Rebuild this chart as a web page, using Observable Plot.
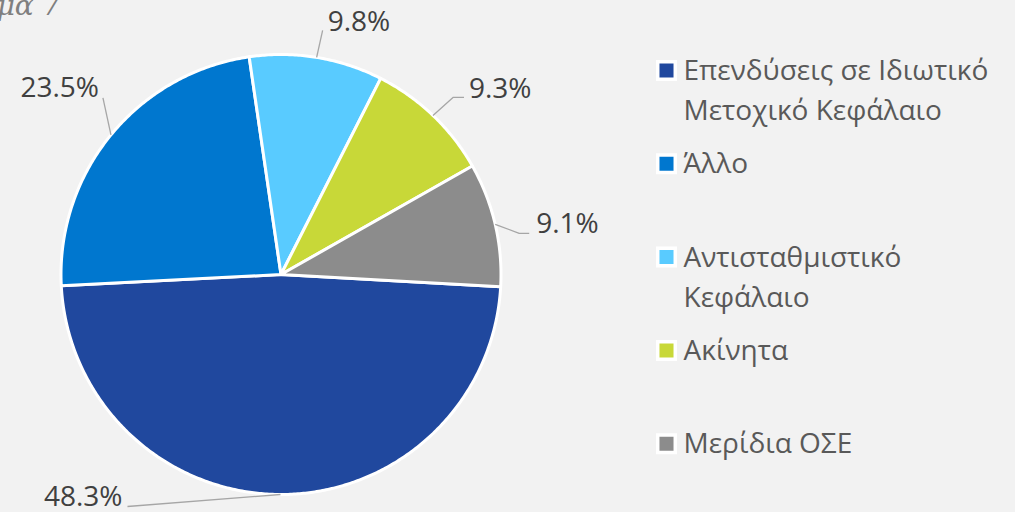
<!DOCTYPE html>
<html>
<head>
<meta charset="utf-8">
<script src="https://cdn.jsdelivr.net/npm/d3@7"></script>
<script src="https://cdn.jsdelivr.net/npm/@observablehq/plot@0.6"></script>
<style>
  html, body { margin: 0; padding: 0; background: #F2F2F2; }
  #chart { width: 1015px; height: 512px; overflow: hidden; }
</style>
</head>
<body>
<div id="chart"></div>
<script>
// ---- Data ----
const categories = [
  "Επενδύσεις σε Ιδιωτικό Μετοχικό Κεφάλαιο",
  "Άλλο",
  "Αντισταθμιστικό Κεφάλαιο",
  "Ακίνητα",
  "Μερίδια ΟΣΕ"
];
const legendLines = [
  ["Επενδύσεις σε Ιδιωτικό", "Μετοχικό Κεφάλαιο"],
  ["Άλλο"],
  ["Αντισταθμιστικό", "Κεφάλαιο"],
  ["Ακίνητα"],
  ["Μερίδια ΟΣΕ"]
];
const values = [48.3, 23.5, 9.8, 9.3, 9.1];
const sliceColors = ["#20489E", "#0077CF", "#59CBFF", "#C8D838", "#8C8C8C"];
const titleText = "Διάγραμμα 7";

// ---- Layout ----
const W = 1015, H = 512;
const cx = 280.5, cy = 274, R = 220;
const startDeg = 93.2;
const font = "'Open Sans', 'Noto Sans', sans-serif";
const fs = 28;
// label layout: offsets from the slice's outer arc midpoint
const labelLayout = [
  {elbow: null,      end: [-153, 12], text: [-158, 12], anchor: "end"},
  {elbow: null,      end: [-8, -37],  text: [-12, -38], anchor: "end"},
  {elbow: null,      end: [6, -27],   text: [11, -26],  anchor: "start"},
  {elbow: [20, -18], end: [31, -18],  text: [36, -17],  anchor: "start"},
  {elbow: [24, 9],   end: [34, 9],    text: [41, 9],    anchor: "start"}
];
const legend = {x: 666, textX: 683, y0: 70, step: 93.3, lineGap: 40, base: 9.5};

// ---- Geometry from values ----
const deg = Math.PI / 180;
const arcs = d3.pie().sort(null).value(d => d)
  .startAngle(startDeg * deg).endAngle((startDeg + 360) * deg)(values);
const pt = (a, r) => [cx + r * Math.sin(a), cy - r * Math.cos(a)];

const slicePts = [];
arcs.forEach((a, i) => {
  const name = categories[i];
  slicePts.push({name, x: cx, y: cy});
  const n = Math.max(2, Math.ceil((a.endAngle - a.startAngle) / (0.5 * deg)));
  for (let k = 0; k <= n; k++) {
    const ang = a.startAngle + (a.endAngle - a.startAngle) * k / n;
    const [x, y] = pt(ang, R);
    slicePts.push({name, x, y});
  }
  slicePts.push({name, x: cx, y: cy});
});

const leaderPts = [];
const labels = [];
arcs.forEach((a, i) => {
  const L = labelLayout[i];
  const [mx, my] = pt((a.startAngle + a.endAngle) / 2, R);
  leaderPts.push({i, x: mx, y: my});
  if (L.elbow) leaderPts.push({i, x: mx + L.elbow[0], y: my + L.elbow[1]});
  leaderPts.push({i, x: mx + L.end[0], y: my + L.end[1]});
  labels.push({x: mx + L.text[0], y: my + L.text[1], text: values[i].toFixed(1) + "%", anchor: L.anchor});
});

const legendBoxes = categories.map((name, i) => ({name, x: legend.x, y: legend.y0 + i * legend.step}));
const legendText = [];
legendLines.forEach((lines, i) => lines.forEach((t, k) => legendText.push({
  x: legend.textX, y: legend.y0 + i * legend.step + legend.base + k * legend.lineGap, t
})));

const chart = Plot.plot({
  width: W, height: H,
  margin: 0,
  style: {background: "#F2F2F2", fontFamily: font},
  x: {domain: [0, W], range: [0, W], axis: null},
  y: {domain: [0, H], range: [0, H], axis: null},
  color: {domain: categories, range: sliceColors},
  marks: [
    Plot.line(slicePts, {x: "x", y: "y", z: "name", fill: "name", stroke: "white", strokeWidth: 3, strokeLinejoin: "round"}),
    Plot.line(leaderPts, {x: "x", y: "y", z: "i", stroke: "#A6A6A6", strokeWidth: 1.3, strokeLinejoin: "miter", strokeLinecap: "butt"}),
    Plot.text(labels.filter(d => d.anchor === "start"), {x: "x", y: "y", text: "text", textAnchor: "start", lineAnchor: "bottom", fontSize: fs, fill: "#404040"}),
    Plot.text(labels.filter(d => d.anchor === "end"), {x: "x", y: "y", text: "text", textAnchor: "end", lineAnchor: "bottom", fontSize: fs, fill: "#404040"}),
    Plot.dot(legendBoxes, {x: "x", y: "y", symbol: "square", r: 9.9, fill: "name", stroke: "white", strokeWidth: 3.5}),
    Plot.text(legendText, {x: "x", y: "y", text: "t", textAnchor: "start", lineAnchor: "bottom", fontSize: fs, fill: "#595959"}),
    Plot.text([titleText], {frameAnchor: "top-left", text: d => d, textAnchor: "end", lineAnchor: "bottom", dx: 60, dy: 14, fontSize: 28, fontStyle: "italic", fontFamily: "'DejaVu Serif', serif", fill: "#7F7F7F"})
  ]
});
document.getElementById("chart").appendChild(chart);
</script>
</body>
</html>
